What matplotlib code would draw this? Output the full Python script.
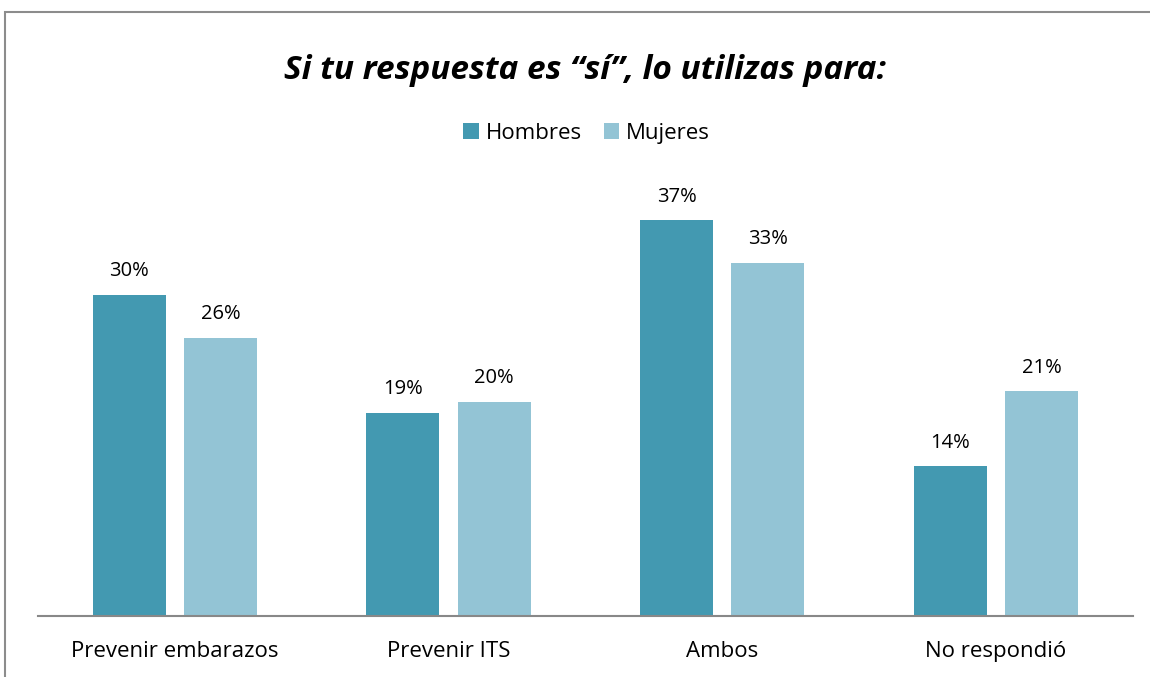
import numpy as np
import matplotlib.pyplot as plt
from matplotlib.patches import Rectangle

categories = ['Prevenir embarazos', 'Prevenir ITS', 'Ambos', 'No respondió']
hombres = [0.30, 0.19, 0.37, 0.14]
mujeres = [0.26, 0.20, 0.33, 0.21]
series_names = ['Hombres', 'Mujeres']
colors = ['#4399B1', '#93C4D5']

plt.rcParams['font.family'] = ['Open Sans', 'DejaVu Sans']

fig = plt.figure(figsize=(11.5, 6.77), dpi=100)
ax = fig.add_axes([0.033, 0.090, 0.952, 0.629])

ind = np.arange(len(categories))
width = 0.267
gap = 0.066
offset = (width + gap) / 2

b1 = ax.bar(ind - offset, hombres, width, color=colors[0], label=series_names[0])
b2 = ax.bar(ind + offset, mujeres, width, color=colors[1], label=series_names[1])

for bars, vals in ((b1, hombres), (b2, mujeres)):
    for rect, v in zip(bars, vals):
        ax.annotate('%d%%' % round(v * 100),
                    (rect.get_x() + rect.get_width() / 2, rect.get_height()),
                    xytext=(0, 17), textcoords='offset points',
                    ha='center', va='center', fontsize=14.5, color='#000000')

ax.set_xlim(-0.5, len(categories) - 0.5)
ax.set_ylim(0, 0.398)
ax.set_xticks(ind)
ax.set_xticklabels(categories, fontsize=16)
ax.tick_params(axis='x', length=0, pad=18)
ax.set_yticks([])
for s in ['top', 'right', 'left']:
    ax.spines[s].set_visible(False)
ax.spines['bottom'].set_color('#888888')
ax.spines['bottom'].set_linewidth(1.5)

fig.text(0.509, 0.896, 'Si tu respuesta es “sí”, lo utilizas para:',
         ha='center', va='center', fontsize=24, fontweight='bold', style='italic')

fig.legend(handles=[b1, b2], labels=series_names, loc='center',
           bbox_to_anchor=(0.51, 0.803), ncol=2, frameon=False, fontsize=16,
           handlelength=0.7, handleheight=0.7, handletextpad=0.3, columnspacing=1.0)

# chart border (only left and top edges visible in the crop)
border = Rectangle((5 / 1150, -0.1), 1.2, (677 - 12) / 677 + 0.1,
                   transform=fig.transFigure, fill=False, edgecolor='#8c8c8c',
                   linewidth=1.5, clip_on=False)
fig.patches.append(border)

fig.savefig('out.png', dpi=100)
